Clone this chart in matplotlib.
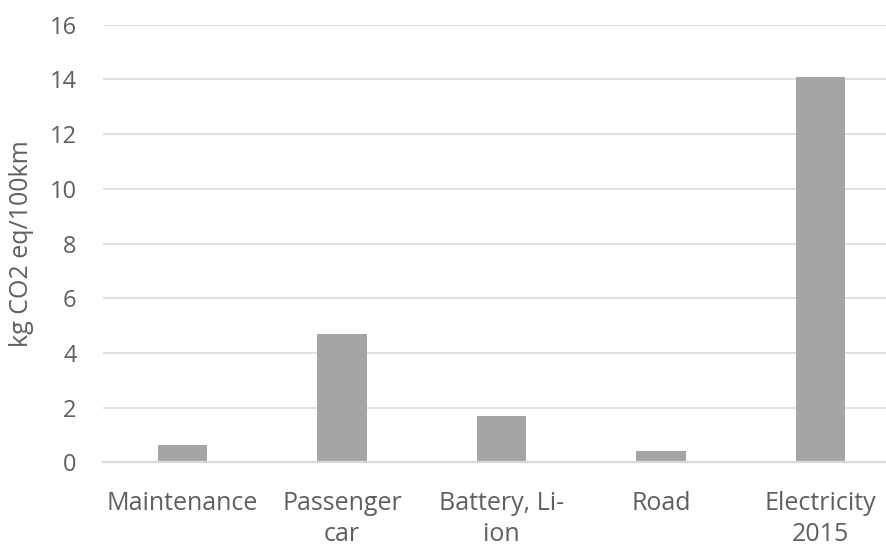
import matplotlib
matplotlib.use("Agg")
import matplotlib.pyplot as plt

categories = ["Maintenance", "Passenger\ncar", "Battery, Li-\nion", "Road", "Electricity\n2015"]
values = [0.63, 4.68, 1.70, 0.42, 14.08]
yticks = [0, 2, 4, 6, 8, 10, 12, 14, 16]

plt.rcParams['font.family'] = ['Open Sans', 'DejaVu Sans']
text_color = "#5f5f5f"

fig = plt.figure(figsize=(8.87, 5.47), dpi=100)
ax = fig.add_axes([0.1161, 0.1548, 0.8985, 0.800])
x = range(len(categories))
ax.bar(x, values, width=0.31, color="#A5A5A5", zorder=3)
ax.set_ylim(0, 16)
ax.set_xlim(-0.5, len(categories) - 0.5)
ax.set_yticks(yticks)
ax.set_yticklabels([str(t) for t in yticks])
ax.set_xticks(list(x))
ax.set_xticklabels(categories, linespacing=1.3)
ax.grid(axis="y", color="#D9D9D9", linewidth=1.1, zorder=0)
for s in ["top", "right", "left"]:
    ax.spines[s].set_visible(False)
ax.spines["bottom"].set_color("#D9D9D9")
ax.spines["bottom"].set_linewidth(1.6)
ax.spines["bottom"].set_zorder(4)
ax.tick_params(axis="y", length=0, labelsize=17, colors=text_color, pad=19)
ax.tick_params(axis="x", length=0, labelsize=18, colors=text_color, pad=21)
ax.set_ylabel("kg CO2 eq/100km", fontsize=18, color=text_color)
ax.yaxis.set_label_coords(-0.087, 0.5)
fig.savefig("out.png", dpi=100)
